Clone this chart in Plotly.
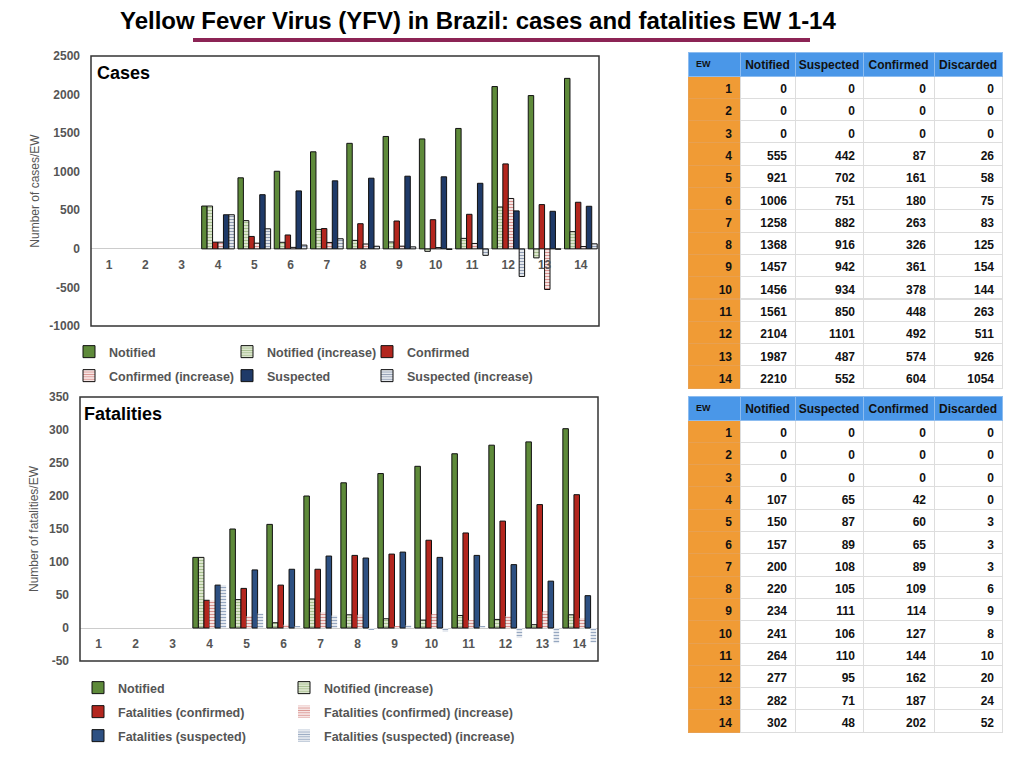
import plotly.graph_objects as go

# ---------------- data ----------------
EW = list(range(1, 15))
ew_labels = [str(e) for e in EW]

# Cases chart (no bars drawn for EW 1-3)
cases_notified = [None, None, None, 555, 921, 1006, 1258, 1368, 1457, 1425, 1561, 2104, 1987, 2210]
cases_notified_inc = [None, None, None, 555, 366, 85, 252, 110, 89, -32, 136, 543, -117, 223]
cases_confirmed = [None, None, None, 87, 161, 180, 263, 326, 361, 378, 448, 1101, 574, 604]
cases_confirmed_inc = [None, None, None, 87, 74, 19, 83, 63, 35, 17, 70, 653, -527, 30]
cases_suspected = [None, None, None, 442, 702, 751, 882, 916, 942, 934, 850, 492, 487, 552]
cases_suspected_inc = [None, None, None, 442, 260, 49, 131, 34, 26, -8, -84, -358, -5, 65]

# Fatalities chart
fat_notified = [None, None, None, 107, 150, 157, 200, 220, 234, 245, 264, 277, 282, 302]
fat_notified_inc = [None, None, None, 107, 43, 8, 44, 20, 14, 12, 19, 13, 5, 20]
fat_confirmed = [None, None, None, 42, 60, 65, 89, 110, 112, 133, 144, 162, 187, 202]
fat_confirmed_inc = [None, None, None, 42, 18, 5, 24, 20, 3, 21, 12, 18, 25, 15]
fat_suspected = [None, None, None, 65, 88, 89, 109, 106, 115, 107, 110, 96, 71, 49]
fat_suspected_inc = [None, None, None, 65, 22, 2, 19, -3, 4, -6, 3, -15, -23, -22]

# axis ticks
cases_ticks = [-1000, -500, 0, 500, 1000, 1500, 2000, 2500]
fat_ticks = [-50, 0, 50, 100, 150, 200, 250, 300, 350]

# Tables
table_header = ["EW", "Notified", "Suspected", "Confirmed", "Discarded"]
t1_notified = [0, 0, 0, 555, 921, 1006, 1258, 1368, 1457, 1456, 1561, 2104, 1987, 2210]
t1_suspected = [0, 0, 0, 442, 702, 751, 882, 916, 942, 934, 850, 1101, 487, 552]
t1_confirmed = [0, 0, 0, 87, 161, 180, 263, 326, 361, 378, 448, 492, 574, 604]
t1_discarded = [0, 0, 0, 26, 58, 75, 83, 125, 154, 144, 263, 511, 926, 1054]

t2_notified = [0, 0, 0, 107, 150, 157, 200, 220, 234, 241, 264, 277, 282, 302]
t2_suspected = [0, 0, 0, 65, 87, 89, 108, 105, 111, 106, 110, 95, 71, 48]
t2_confirmed = [0, 0, 0, 42, 60, 65, 89, 109, 114, 127, 144, 162, 187, 202]
t2_discarded = [0, 0, 0, 0, 3, 3, 3, 6, 9, 8, 10, 20, 24, 52]

TITLE = "Yellow Fever Virus (YFV) in Brazil: cases and fatalities EW 1-14"

# ---------------- style ----------------
W, H = 1024, 768
OFF = 8  # page body margin
FONT = "Liberation Sans"
GRAY = "#555555"
GREEN = "#5E8A3A"
GREEN_BG = "#EEF4E2"
RED = "#B3261E"
NAVY = "#1F3A68"
BLUE2 = "#2D5082"
ORANGE = "#F09B35"
HEADER_BLUE = "#4A97E8"


def px(x):
    return (x - OFF) / W


def py(y):
    return 1 - (y - OFF) / H


top_xd = [px(91), px(599)]
top_yd = [py(326), py(56)]
bot_xd = [px(80), px(598)]
bot_yd = [py(661), py(397)]
top_range = [-1000, 2500]
bot_range = [-50, 350]

# legend slots (pixel positions of legend text start / row centres)
top_leg_cols = [108, 266, 406]
top_leg_rows = [352, 376]
bot_leg_cols = [117, 323]
bot_leg_rows = [688, 712, 736]
TEXT_OFFSET = 39


def zero_pos(dom, rng):
    return dom[0] + (0 - rng[0]) / (rng[1] - rng[0]) * (dom[1] - dom[0])


fig = go.Figure()
legend_layouts = {}
legend_font = dict(family=FONT, size=12.5, color=GRAY, weight="bold")


def add_bar(name, vals, color, xa, ya, slot, pattern=False, bg="white", outline=True):
    idx = len(legend_layouts) + 1
    lid = "legend" if idx == 1 else "legend%d" % idx
    legend_layouts[lid] = dict(x=px(slot[0] - TEXT_OFFSET), y=py(slot[1]), xanchor="left",
                               yanchor="middle", orientation="h", bgcolor="rgba(0,0,0,0)",
                               font=legend_font, itemwidth=30)
    marker = dict(color=color, line=dict(color="#111111", width=1 if outline else 0))
    if pattern:
        marker["pattern"] = dict(shape="-", fgcolor=color, bgcolor=bg, size=3, solidity=0.5)
    fig.add_trace(go.Bar(x=ew_labels, y=vals, name=name, marker=marker,
                         xaxis=xa, yaxis=ya, legend=lid, hoverinfo="x+y+name"))


T = lambda r, c: (top_leg_cols[c], top_leg_rows[r])
B = lambda r, c: (bot_leg_cols[c], bot_leg_rows[r])

# top chart
add_bar("Notified", cases_notified, GREEN, "x", "y", T(0, 0))
add_bar("Notified (increase)", cases_notified_inc, GREEN, "x", "y", T(0, 1), pattern=True, bg=GREEN_BG)
add_bar("Confirmed", cases_confirmed, RED, "x", "y", T(0, 2))
add_bar("Confirmed (increase)", cases_confirmed_inc, RED, "x", "y", T(1, 0), pattern=True)
add_bar("Suspected", cases_suspected, NAVY, "x", "y", T(1, 1))
add_bar("Suspected (increase)", cases_suspected_inc, NAVY, "x", "y", T(1, 2), pattern=True)

# bottom chart
add_bar("Notified", fat_notified, GREEN, "x2", "y2", B(0, 0))
add_bar("Notified (increase)", fat_notified_inc, GREEN, "x2", "y2", B(0, 1), pattern=True, bg=GREEN_BG)
add_bar("Fatalities (confirmed)", fat_confirmed, RED, "x2", "y2", B(1, 0))
add_bar("Fatalities (confirmed) (increase)", fat_confirmed_inc, RED, "x2", "y2", B(1, 1), pattern=True, outline=False)
add_bar("Fatalities (suspected)", fat_suspected, BLUE2, "x2", "y2", B(2, 0))
add_bar("Fatalities (suspected) (increase)", fat_suspected_inc, BLUE2, "x2", "y2", B(2, 1), pattern=True, outline=False)


# tables
def add_table(cols, y0, y1):
    fig.add_trace(go.Table(
        domain=dict(x=[px(688), px(1002)], y=[py(y1), py(y0)]),
        columnwidth=[52, 55, 68, 71, 68],
        header=dict(values=table_header,
                    fill_color=HEADER_BLUE,
                    line=dict(color="#8CBCF0", width=1),
                    align=["left", "center", "center", "center", "center"],
                    font=dict(family=FONT, size=[9, 12, 12, 12, 12], color="#111111", weight="bold"),
                    height=24),
        cells=dict(values=[EW] + cols,
                   fill_color=[ORANGE, "white", "white", "white", "white"],
                   line=dict(color=["#E8A050", "#DDDDDD", "#DDDDDD", "#DDDDDD", "#DDDDDD"], width=1),
                   align="right",
                   font=dict(family=FONT, size=12, color="#111111", weight="bold"),
                   height=22.3),
    ))


add_table([t1_notified, t1_suspected, t1_confirmed, t1_discarded], 52, 392)
add_table([t2_notified, t2_suspected, t2_confirmed, t2_discarded], 396, 736)

tickfont = dict(family=FONT, size=12, color=GRAY, weight="bold")
axis_title_font = dict(family=FONT, size=12, color=GRAY)

fig.update_layout(
    width=W, height=H,
    margin=dict(l=0, r=0, t=0, b=0, pad=0, autoexpand=False),
    paper_bgcolor="white", plot_bgcolor="white",
    barmode="group", bargap=0.1, bargroupgap=0,
    font=dict(family=FONT),
    showlegend=True,
    xaxis=dict(domain=top_xd, anchor="free", position=zero_pos(top_yd, top_range),
               type="category", showline=False, showgrid=False, ticks="", automargin=False,
               tickfont=tickfont, ticklabelstandoff=7, fixedrange=True),
    yaxis=dict(domain=top_yd, anchor="free", position=top_xd[0], range=top_range,
               tickvals=cases_ticks, ticktext=[str(v) for v in cases_ticks],
               showgrid=False, showline=False, ticks="", zeroline=True, automargin=False,
               zerolinecolor="#CCCCCC", zerolinewidth=1, tickfont=tickfont,
               ticklabelstandoff=11,
               title=dict(text="Number of cases/EW", font=axis_title_font, standoff=6)),
    xaxis2=dict(domain=bot_xd, anchor="free", position=zero_pos(bot_yd, bot_range),
                type="category", showline=False, showgrid=False, ticks="", automargin=False,
                tickfont=tickfont, ticklabelstandoff=7),
    yaxis2=dict(domain=bot_yd, anchor="free", position=bot_xd[0], range=bot_range,
                tickvals=fat_ticks, ticktext=[str(v) for v in fat_ticks],
                showgrid=False, showline=False, ticks="", zeroline=True, automargin=False,
                zerolinecolor="#CCCCCC", zerolinewidth=1, tickfont=tickfont,
                ticklabelstandoff=11,
                title=dict(text="Number of fatalities/EW", font=axis_title_font, standoff=6)),
    **legend_layouts,
)

# plot frames
for xr, yr in (("x domain", "y domain"), ("x2 domain", "y2 domain")):
    fig.add_shape(type="rect", xref=xr, yref=yr, x0=0, x1=1, y0=0, y1=1,
                  line=dict(color="#333333", width=1.5), fillcolor="rgba(0,0,0,0)", layer="above")

# title + underline
fig.add_annotation(text="<b>%s</b>" % TITLE, xref="paper", yref="paper", x=px(478), y=py(20),
                   xanchor="center", yanchor="middle", showarrow=False,
                   font=dict(family=FONT, size=24, color="black"))
fig.add_shape(type="line", xref="paper", yref="paper", x0=px(193), x1=px(810), y0=py(40), y1=py(40),
              line=dict(color="#8C2455", width=4))

# panel labels
fig.add_annotation(text="<b>Cases</b>", xref="x domain", yref="y domain", x=0, y=1,
                   xanchor="left", yanchor="top", xshift=4, yshift=-5, showarrow=False,
                   font=dict(family=FONT, size=18, color="black"))
fig.add_annotation(text="<b>Fatalities</b>", xref="x2 domain", yref="y2 domain", x=0, y=1,
                   xanchor="left", yanchor="top", xshift=2, yshift=-5, showarrow=False,
                   font=dict(family=FONT, size=18, color="black"))

fig.write_html("out.html")
